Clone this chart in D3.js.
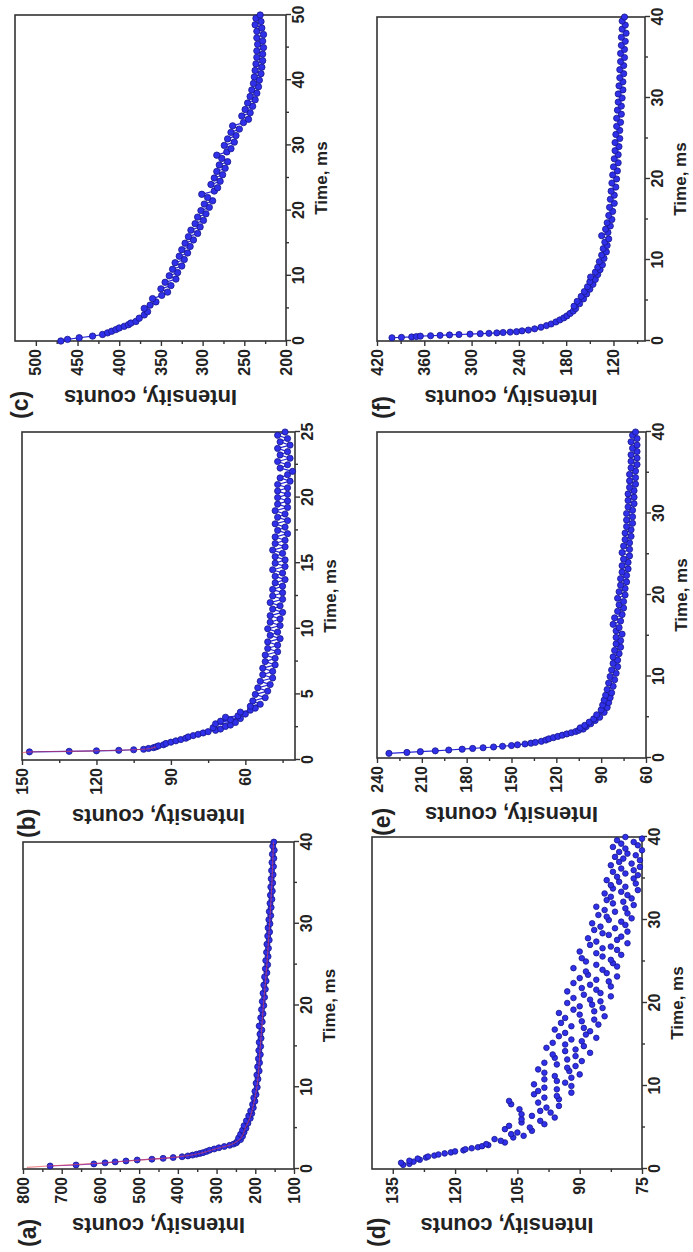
<!DOCTYPE html>
<html>
<head>
<meta charset="utf-8">
<script src="https://cdn.jsdelivr.net/npm/d3@7"></script>
<style>
    body { margin: 0; background: #fff; }
    svg { display: block; }
    text { font-family: "Liberation Sans", Arial, sans-serif; font-weight: bold; fill: #222; }
</style>
</head>
<body>
<div id="chart"></div>
<script>
/* * * * * * * * * * * * * *
*   decay curves, 6 panels  *
* * * * * * * * * * * * * */

// ---- panel (a) ----
const aData = [[0.37,730],[0.49,663],[0.62,617],[0.75,588],[0.87,562],[0.98,534],[1.1,505],[1.2,467],[1.3,438],[1.4,412],[1.5,389],
    [1.6,374],[1.7,362],[1.8,352],[1.9,343],[2.0,335],[2.15,326],[2.3,318],[2.45,306],[2.6,294],[2.75,280],[2.9,266],[3.05,256],[3.2,249],
    [3.4,246],[3.6,238],[3.8,243],[4.0,233],[4.25,238],[4.5,229],[4.75,233],[5.0,224],[5.3,229],[5.6,219],[5.9,223],[6.2,213],[6.5,217],
    [6.8,209],[7.1,212],[7.5,205],[7.9,207],[8.3,201],[8.7,204],[9.1,198],[9.5,201],[10,195],[10.5,198],[11,193],[11.5,196],[12,190],
    [12.5,194],[13,189],[13.5,192],[14,187],[14.5,191],[15,186],[15.5,190],[16,185],[16.5,188],[17,183],[17.5,190],[18,182],[18.5,186],
    [19,180],[19.5,184],[20,178],[20.5,182],[21,176],[21.5,180],[22,174],[22.5,178],[23,172],[23.5,176],[24,170],[24.5,174],[25,168],
    [25.5,173],[26,167],[26.5,171],[27,166],[27.5,170],[28,164],[28.5,168],[29,163],[29.5,167],[30,162],[30.5,165],[31,160],[31.5,164],
    [32,159],[32.5,162],[33,157],[33.5,161],[34,156],[34.5,160],[35,155],[35.5,159],[36,154],[36.5,158],[37,153],[37.5,157],[38,152],
    [38.5,156],[39,151],[39.5,155],[40,152]];
const aFit = [[0.2,790],[0.4,725],[0.7,605],[1.0,525],[1.3,440],[1.6,378],[2,335],[2.5,300],[3,262],[3.5,243],[4,234],[5,226],[6,216],
    [8,204],[10,196],[15,187],[20,179],[25,170],[30,163],[35,157],[40,153]];
const aXTicks = [0, 10, 20, 30, 40];
const aXMinor = [5, 15, 25, 35];
const aYTicks = [100, 200, 300, 400, 500, 600, 700, 800];
const aYMinor = [150, 250, 350, 450, 550, 650, 750];

// ---- panel (b) ----
const bData = [[0.62,147],[0.66,131],[0.70,120],[0.74,111],[0.78,105],[0.82,101],[0.88,99],[0.94,97],[1.0,96],[1.08,95],[1.16,93],
    [1.26,92],[1.36,90],[1.46,88],[1.56,86],[1.66,84],[1.76,83],[1.86,81],[1.96,79],[2.06,77],[2.16,75],[2.26,72],[2.36,70],[2.46,73],
    [2.56,68],[2.66,66],[2.76,72],[2.86,64],[2.96,70],[3.06,66],[3.16,62],[3.26,68],[3.36,63],[3.5,60],[3.65,62],[3.8,58],[3.95,56],
    [4.1,58],[4.25,54],[4.5,57],[4.75,52],[5,56],[5.25,51],[5.5,55],[5.75,50],[6,54],[6.25,49],[6.5,53],[6.75,49],[7,53],[7.25,48],
    [7.5,52],[7.75,48],[8,52],[8.25,47],[8.5,51],[8.75,47],[9,51],[9.25,46],[9.5,50],[9.75,47],[10,51],[10.25,46],[10.5,50],[10.75,46],
    [11,50],[11.25,45],[11.5,49],[11.75,46],[12,50],[12.25,45],[12.5,49],[12.75,45],[13,49],[13.25,45],[13.5,48],[13.75,44],[14,48],
    [14.25,45],[14.5,49],[14.75,44],[15,48],[15.25,44],[15.5,48],[15.75,45],[16,49],[16.25,44],[16.5,48],[16.75,44],[17,48],[17.25,43],
    [17.5,47],[17.75,44],[18,48],[18.25,43],[18.5,47],[18.75,44],[19,48],[19.25,43],[19.5,47],[19.75,43],[20,47],[20.25,43],[20.5,47],
    [20.75,43],[21,47],[21.25,42],[21.5,46],[21.75,43],[22,41],[22.25,46],[22.5,43],[22.75,47],[23,42],[23.25,46],[23.5,43],[23.75,47],
    [24,42],[24.25,46],[24.5,43],[24.75,47],[25,44]];
// thin red fit, only visible where the points are sparse
const bFit = [[0.55,150],[0.62,147],[0.66,131],[0.70,120],[0.74,111],[0.78,105],[0.82,101],[0.9,98],[1.0,96]];
const bXTicks = [0, 5, 10, 15, 20, 25];
const bXMinor = [2.5, 7.5, 12.5, 17.5, 22.5];
const bYTicks = [60, 90, 120, 150];
const bYMinor = [45, 75, 105, 135];

// ---- panel (c) ----
const cData = [[0,470],[0.25,462],[0.5,448],[0.75,432],[1,420],[1.25,414],[1.5,409],[1.75,404],[2,400],[2.25,394],[2.5,389],[2.75,386],
    [3,380],[3.5,376],[4,370],[4.5,366],[5,370],[5.5,363],[6,356],[6.5,360],[7,349],[7.5,342],[8,350],[8.5,338],[9,345],[9.5,332],
    [10,340],[10.5,330],[11,336],[11.5,325],[12,333],[12.5,322],[13,328],[13.5,318],[14,325],[14.5,315],[15,321],[15.5,311],[16,317],
    [16.5,306],[17,314],[17.5,303],[18,309],[18.5,299],[19,306],[19.5,296],[20,302],[20.5,292],[21,298],[21.5,288],[22,294],[22.5,301],
    [23,286],[23.5,282],[24,290],[24.5,279],[25,286],[25.5,276],[26,283],[26.5,273],[27,280],[27.5,270],[28,277],[28.5,283],[29,271],
    [29.5,266],[30,274],[30.5,262],[31,270],[31.5,260],[32,266],[32.5,256],[33,264],[33.5,251],[34,245],[34.5,253],[35,243],[35.5,249],
    [36,240],[36.5,246],[37,237],[37.5,243],[38,235],[38.5,241],[39,233],[39.5,239],[40,232],[40.5,238],[41,230],[41.5,237],[42,229],
    [42.5,236],[43,228],[43.5,235],[44,228],[44.5,235],[45,227],[45.5,234],[46,228],[46.5,235],[47,227],[47.5,235],[48,229],[48.5,237],
    [49,230],[49.5,236],[50,231]];
const cXTicks = [0, 10, 20, 30, 40, 50];
const cXMinor = [5, 15, 25, 35, 45];
const cYTicks = [200, 250, 300, 350, 400, 450, 500];
const cYMinor = [225, 275, 325, 375, 425, 475];

// ---- panel (d) ---- (scattered points, no joining line)
const dData = [[0.5,132.5],[0.62,131],[0.75,133],[0.88,130],[1.0,131],[1.12,128.5],[1.25,129],[1.38,127],[1.5,126.5],[1.62,125],
    [1.75,124],[1.88,122.5],[2.0,121],[2.12,120],[2.25,118],[2.38,117.5],[2.5,116],[2.62,114.5],[2.75,113.5],[2.88,112],
    [3.0,112.5],[3.2,108],[3.4,109],[3.6,110.5],[3.8,106],[4.0,103.5],[4.2,106.5],[4.4,105],[4.6,101.5],[4.8,108],[5.0,102],[5.2,107],
    [5.4,98.5],[5.6,104],[5.8,99.5],[6.0,104],[6.2,96],[6.4,101.5],[6.6,104],[6.8,97],[7.0,99.5],[7.2,104.5],[7.4,98],[7.6,95],
    [7.8,106.5],[8.0,100],[8.2,107],[8.4,95],[8.6,98.5],[8.8,95.5],[9.0,101],[9.2,92],[9.4,100],[9.6,95.5],[9.8,98.5],[10.0,92],
    [10.2,101],[10.4,93.5],[10.6,95.5],[10.8,98.5],[11.0,92],[11.2,96],[11.4,90],[11.6,98.5],[11.8,92.5],[12.0,100],[12.2,93],[12.4,91],
    [12.6,95.5],[12.8,98.5],[13.0,89.5],[13.2,93],[13.4,96],[13.6,91],[13.8,96.5],[14.0,87.5],[14.2,93.5],[14.4,91],[14.6,98],[14.8,89],
    [15.0,93.5],[15.2,96.5],[15.4,89.5],[15.6,92],[15.8,86],[16.0,95],[16.2,88.5],[16.4,93.5],[16.6,87.5],[16.8,96],[17.0,89],[17.2,92],
    [17.4,85.5],[17.6,94.5],[17.8,89.5],[18.0,86.5],[18.2,93.5],[18.4,84],[18.6,90],[18.8,95],[19.0,86.5],[19.2,91.5],[19.4,84.5],
    [19.6,90],[19.8,87],[20.0,93],[20.2,85],[20.4,87.5],[20.6,91.5],[20.8,82.5],[21.0,89],[21.2,85],[21.4,93],[21.6,86],[21.8,89.5],
    [22.0,82.5],[22.2,87.5],[22.4,91.5],[22.6,83],[22.8,86],[23.0,90],[23.2,81],[23.4,88],[23.6,83.5],[23.8,88.5],[24.0,84.5],[24.2,91.5],
    [24.4,81],[24.6,86],[24.8,82],[25.0,88.5],[25.2,82.5],[25.4,89.5],[25.6,84.5],[25.8,80],[26.0,86],[26.2,90],[26.4,81],[26.6,84.5],
    [26.8,82.5],[27.0,87.5],[27.2,78.5],[27.4,86],[27.6,81],[27.8,88],[28.0,80],[28.2,83],[28.4,84.5],[28.6,78.5],[28.8,86.5],[29.0,81.5],
    [29.2,85],[29.4,79],[29.6,87],[29.8,80],[30.0,83],[30.2,77.5],[30.4,83.5],[30.6,85.5],[30.8,78.5],[31.0,81.5],[31.2,84],[31.4,79],
    [31.6,86],[31.8,77],[32.0,82],[32.2,79.5],[32.4,83.5],[32.6,77.5],[32.8,82.5],[33.0,78.5],[33.2,84],[33.4,80],[33.6,76],[33.8,82],
    [34.0,79],[34.2,82.5],[34.4,76.5],[34.6,80.5],[34.8,83.5],[35.0,77],[35.2,81],[35.4,76],[35.6,79],[35.8,82],[36.0,77],[36.2,80],
    [36.4,75.5],[36.6,82.5],[36.8,77.5],[37.0,80.5],[37.2,75.5],[37.4,79.5],[37.6,81.5],[37.8,76.5],[38.0,78.5],[38.2,80.5],[38.4,75],
    [38.6,79],[38.8,82],[39.0,76],[39.2,80],[39.4,77],[39.6,81],[39.8,75],[40.0,79]];
const dXTicks = [0, 10, 20, 30, 40];
const dXMinor = [5, 15, 25, 35];
const dYTicks = [75, 90, 105, 120, 135];
const dYMinor = [82.5, 97.5, 112.5, 127.5];

// ---- panel (e) ----
const eData = [[0.57,232],[0.68,220],[0.78,211],[0.88,201],[0.98,192],[1.08,183],[1.17,176],[1.26,169],[1.35,162],[1.44,156],[1.53,150],
    [1.62,146],[1.72,141],[1.82,137],[1.92,134],[2.05,130],[2.2,127],[2.35,125],[2.5,122],[2.65,119],[2.8,116],[2.95,113],[3.1,110],
    [3.25,107],[3.4,105],[3.55,102],[3.7,104],[3.85,100],[4.0,101],[4.2,97],[4.4,98],[4.6,94],[4.8,95],[5.0,91],[5.3,93],[5.6,88],
    [5.9,90],[6.2,86],[6.5,89],[6.8,85],[7.1,88],[7.4,84],[7.7,87],[8,83],[8.4,86],[8.8,82],[9.2,85],[9.6,81],[10,84],[10.4,80],
    [10.8,83],[11.2,79],[11.6,82],[12,79],[12.4,82],[12.8,78],[13.2,81],[13.6,77],[14,80],[14.4,77],[14.8,80],[15.2,76],[15.6,80],
    [16,78],[16.4,82],[16.8,77],[17.2,81],[17.6,76],[18,79],[18.4,75],[18.8,78],[19.2,75],[19.6,79],[20,74],[20.4,78],[20.8,74],
    [21.2,77],[21.6,73],[22,77],[22.4,73],[22.8,76],[23.2,72],[23.6,76],[24,72],[24.4,75],[24.8,71],[25.2,76],[25.6,71],[26,75],
    [26.4,71],[26.8,74],[27.2,70],[27.6,74],[28,70],[28.4,73],[28.8,69],[29.2,73],[29.6,69],[30,73],[30.4,69],[30.8,72],[31.2,68],
    [31.6,72],[32,68],[32.4,72],[32.8,68],[33.2,71],[33.6,67],[34,71],[34.4,67],[34.8,71],[35.2,67],[35.6,70],[36,66],[36.4,70],
    [36.8,66],[37.2,70],[37.6,66],[38,69],[38.4,66],[38.8,70],[39.2,66],[39.6,69],[40,67]];
const eXTicks = [0, 10, 20, 30, 40];
const eXMinor = [5, 15, 25, 35];
const eYTicks = [60, 90, 120, 150, 180, 210, 240];
const eYMinor = [75, 105, 135, 165, 195, 225];

// ---- panel (f) ----
const fData = [[0.4,401],[0.45,389],[0.5,376],[0.55,370],[0.6,365],[0.65,352],[0.7,340],[0.75,328],[0.8,316],[0.85,302],[0.9,289],
    [0.95,278],[1.0,268],[1.05,260],[1.1,251],[1.15,243],[1.25,236],[1.35,228],[1.5,220],[1.7,212],[1.9,205],[2.1,199],[2.35,193],
    [2.6,188],[2.85,183],[3.1,179],[3.4,175],[3.7,171],[4.0,168],[4.3,170],[4.6,163],[4.9,166],[5.2,158],[5.5,161],[5.8,154],[6.1,157],
    [6.4,150],[6.7,153],[7,146],[7.3,150],[7.6,143],[7.9,149],[8.2,140],[8.5,143],[8.8,137],[9.1,140],[9.4,134],[9.8,138],[10.2,132],
    [10.6,135],[11,129],[11.4,133],[11.8,128],[12.2,131],[12.6,126],[13,135],[13.4,127],[13.8,130],[14.2,124],[14.6,128],[15,122],
    [15.5,126],[16,121],[16.5,125],[17,119],[17.5,124],[18,119],[18.5,123],[19,117],[19.5,122],[20,116],[20.5,121],[21,115],[21.5,120],
    [22,114],[22.5,119],[23,114],[23.5,118],[24,113],[24.5,118],[25,112],[25.5,117],[26,112],[26.5,116],[27,111],[27.5,116],[28,110],
    [28.5,115],[29,110],[29.5,114],[30,109],[30.5,114],[31,108],[31.5,113],[32,108],[32.5,112],[33,107],[33.5,112],[34,107],[34.5,111],
    [35,106],[35.5,111],[36,106],[36.5,110],[37,105],[37.5,110],[38,104],[38.5,109],[39,105],[39.5,109],[40,106]];
const fXTicks = [0, 10, 20, 30, 40];
const fXMinor = [5, 15, 25, 35];
const fYTicks = [120, 180, 240, 300, 360, 420];
const fYMinor = [90, 150, 210, 270, 330, 390];

// the figure is laid out upright (W x H) and then turned a quarter turn
const W = 1252, H = 693;

let panels = [
    {label: "(a)", data: aData, fit: aFit, x0: 83, x1: 410, y0: 23, y1: 294, xDomain: [0, 40], yDomain: [100, 800],
        xTicks: aXTicks, xMinor: aXMinor, yTicks: aYTicks, yMinor: aYMinor, line: "#8a4ad0", r: 3},
    {label: "(b)", data: bData, fit: bFit, x0: 492, x1: 820, y0: 22, y1: 295, xDomain: [0, 25], yDomain: [40, 150],
        xTicks: bXTicks, xMinor: bXMinor, yTicks: bYTicks, yMinor: bYMinor, line: "#2626d8", r: 3.1},
    {label: "(c)", data: cData, x0: 911, x1: 1237, y0: 15, y1: 286, xDomain: [0, 50], yDomain: [200, 525],
        xTicks: cXTicks, xMinor: cXMinor, yTicks: cYTicks, yMinor: cYMinor, line: "#2626d8", r: 3.2},
    {label: "(d)", data: dData, x0: 83, x1: 415, y0: 372, y1: 642, xDomain: [0, 40], yDomain: [75, 140],
        xTicks: dXTicks, xMinor: dXMinor, yTicks: dYTicks, yMinor: dYMinor, line: null, r: 2.8},
    {label: "(e)", data: eData, x0: 494, x1: 820, y0: 377, y1: 646, xDomain: [0, 40], yDomain: [60, 240],
        xTicks: eXTicks, xMinor: eXMinor, yTicks: eYTicks, yMinor: eYMinor, line: "#2626d8", r: 3.1},
    {label: "(f)", data: fData, x0: 911, x1: 1235, y0: 377, y1: 645, xDomain: [0, 40], yDomain: [80, 420],
        xTicks: fXTicks, xMinor: fXMinor, yTicks: fYTicks, yMinor: fYMinor, line: "#2626d8", r: 3.1}
];

let svg = d3.select("#chart").append("svg")
    .attr("width", H)
    .attr("height", W);

let fig = svg.append("g")
    .attr("transform", `translate(0,${W}) rotate(-90)`);

panels.forEach(p => drawPanel(p));

function drawPanel(p) {
    let x = d3.scaleLinear().domain(p.xDomain).range([p.x0, p.x1]);
    let y = d3.scaleLinear().domain(p.yDomain).range([p.y1, p.y0]);

    let g = fig.append("g").attr("class", "panel");

    // minor ticks first, then majors with labels
    g.append("g")
        .attr("transform", `translate(0,${p.y1})`)
        .call(d3.axisBottom(x).tickValues(p.xMinor).tickSize(3).tickFormat(""))
        .call(a => a.select(".domain").remove());
    g.append("g")
        .attr("transform", `translate(${p.x0},0)`)
        .call(d3.axisLeft(y).tickValues(p.yMinor).tickSize(3).tickFormat(""))
        .call(a => a.select(".domain").remove());

    let xAxis = g.append("g")
        .attr("transform", `translate(0,${p.y1})`)
        .call(d3.axisBottom(x).tickValues(p.xTicks).tickSize(5).tickPadding(2).tickFormat(d3.format("d")));
    xAxis.select(".domain").remove();
    xAxis.selectAll("text").attr("font-size", 16).attr("font-family", null);

    let yAxis = g.append("g")
        .attr("transform", `translate(${p.x0},0)`)
        .call(d3.axisLeft(y).tickValues(p.yTicks).tickSize(5).tickPadding(3).tickFormat(d3.format("d")));
    yAxis.select(".domain").remove();
    yAxis.selectAll("text").attr("font-size", 16).attr("font-family", null);

    g.selectAll(".tick line").attr("stroke", "#333").attr("stroke-width", 1.4);

    // frame
    g.append("rect")
        .attr("x", p.x0).attr("y", p.y0)
        .attr("width", p.x1 - p.x0).attr("height", p.y1 - p.y0)
        .attr("fill", "none")
        .attr("stroke", "#333")
        .attr("stroke-width", 1.6);

    let plot = g.append("g");

    if (p.line) {
        plot.append("path")
            .datum(p.data)
            .attr("fill", "none")
            .attr("stroke", p.line)
            .attr("stroke-width", 1.2)
            .attr("d", d3.line().x(d => x(d[0])).y(d => y(d[1])));
    }

    plot.selectAll("circle")
        .data(p.data)
        .enter().append("circle")
        .attr("cx", d => x(d[0]))
        .attr("cy", d => y(d[1]))
        .attr("r", p.r)
        .attr("fill", "#3030ea")
        .attr("stroke", "#16168a")
        .attr("stroke-width", 0.8);

    // red fit drawn over the points
    if (p.fit) {
        plot.append("path")
            .datum(p.fit)
            .attr("fill", "none")
            .attr("stroke", "#e2404a")
            .attr("stroke-opacity", 0.6)
            .attr("stroke-width", 1.1)
            .attr("d", d3.line().curve(d3.curveMonotoneX).x(d => x(d[0])).y(d => y(d[1])));
    }

    // axis titles
    g.append("text")
        .attr("x", (p.x0 + p.x1) / 2)
        .attr("y", p.y1 + 41)
        .attr("text-anchor", "middle")
        .attr("font-size", 17)
        .text("Time, ms");

    g.append("text")
        .attr("transform", `translate(${p.x0 - 49},${(p.y0 + p.y1) / 2}) rotate(-90)`)
        .attr("text-anchor", "middle")
        .attr("font-size", 22)
        .text("Intensity, counts");

    g.append("text")
        .attr("x", p.x0 - 78)
        .attr("y", p.y0 + 13)
        .attr("font-size", 23)
        .text(p.label);
}
</script>
</body>
</html>
